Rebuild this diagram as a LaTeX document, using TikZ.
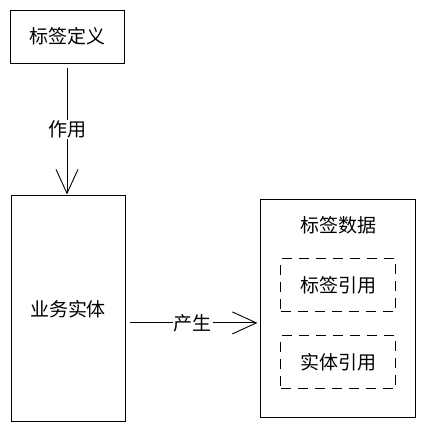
\documentclass[tikz,border=0pt]{standalone}
\usepackage{fontspec}
\setmainfont{Noto Sans CJK SC}
\usetikzlibrary{arrows.meta,positioning}

\begin{document}
\begin{tikzpicture}[
  x=1pt, y=-1pt,
  node distance=132pt and 135pt,
  box/.style={draw, line width=0.9pt, inner sep=0pt, font=\fontsize{19}{22}\selectfont},
  refbox/.style={box, dash pattern=on 10pt off 7pt, minimum width=115pt, minimum height=53pt},
  txt/.style={inner sep=1pt, font=\fontsize{19}{22}\selectfont},
  lbl/.style={txt, fill=white},
  arrow/.style={-{Straight Barb[length=24pt, width=22pt]}, line width=0.9pt}
]
\useasboundingbox (0,0) rectangle (425,431);
\node[box, minimum width=114pt, minimum height=53pt] (tagdef) at (67,36.5) {标签定义};
\node[box, below=of tagdef, xshift=1pt, minimum width=114pt, minimum height=226pt] (entity) {业务实体};
\node[box, right=of entity, minimum width=155pt, minimum height=218pt] (data) {};
\node[txt, below=16pt of data.north] (datatitle) {标签数据};
\node[refbox, below=59pt of data.north] (tagref) {标签引用};
\node[refbox, below=23pt of tagref] (entref) {实体引用};
\draw[arrow, shorten <=5pt, shorten >=1pt] (tagdef.south) -- node[lbl] {作用} (tagdef.south |- entity.north);
\draw[arrow, shorten <=5pt, shorten >=3pt] ([yshift=-14pt]entity.east) -- node[lbl] {产生} ([yshift=-14pt]entity.east -| data.west);
\end{tikzpicture}
\end{document}
